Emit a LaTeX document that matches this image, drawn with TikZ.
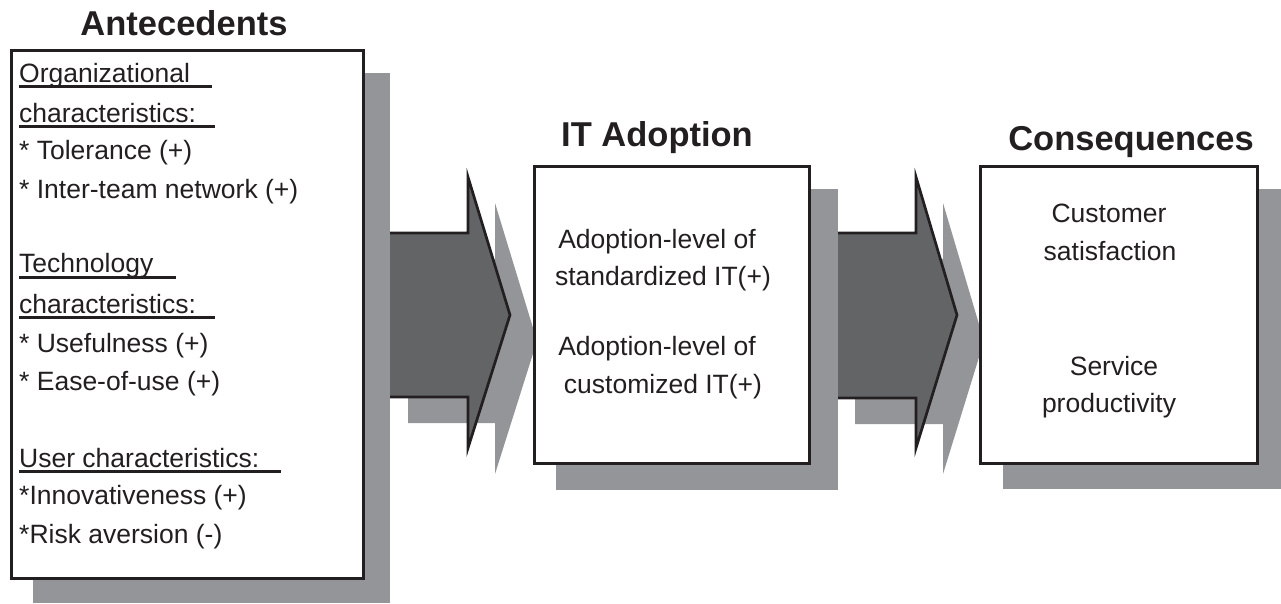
\documentclass[tikz,border=0pt]{standalone}
\usepackage{fontspec}
\setmainfont{Liberation Sans}
\definecolor{ink}{HTML}{231F20}
\definecolor{shade}{HTML}{939598}
\definecolor{arrowfill}{HTML}{636466}
\begin{document}
\begin{tikzpicture}[x=1pt,y=-1pt,
  body/.style={font=\fontsize{26.5}{30}\selectfont, text=ink, inner sep=0pt, anchor=base west},
  bodyc/.style={body, anchor=base},
  title/.style={font=\fontsize{34.5}{40}\selectfont\bfseries, text=ink, inner sep=0pt, anchor=base},
  shadowbox/.style={fill=shade, draw=none, inner sep=0pt, anchor=north west},
  mainbox/.style={fill=white, draw=ink, line width=2.7pt, inner sep=0pt, anchor=north west},
  bigarrow/.style={fill=arrowfill, draw=ink, line width=2.7pt, line join=miter},
  arrowshadow/.style={fill=shade, draw=none},
  ul/.style={draw=ink, line width=3pt}]
\useasboundingbox (0,0) rectangle (1281,603);

% arrow shadows
\fill[arrowshadow] (408,259) -- (495,259) -- (495,203) -- (537,341) -- (495,474) -- (495,423) -- (408,423) -- cycle;
\fill[arrowshadow] (855,259) -- (943,259) -- (943,203) -- (984,341) -- (943,474) -- (943,424) -- (855,424) -- cycle;
% arrows
\draw[bigarrow] (381,233) -- (468,233) -- (468,177) -- (510,315) -- (468,448) -- (468,397) -- (381,397) -- cycle;
\draw[bigarrow] (828,233) -- (916,233) -- (916,177) -- (957,315) -- (916,448) -- (916,398) -- (828,398) -- cycle;

% boxes with shadows
\node[shadowbox, minimum width=357pt, minimum height=530pt] (anteshadow) at (33,73) {};
\node[mainbox, minimum width=352pt, minimum height=528pt] (ante) at (10,49) {};
\node[shadowbox, minimum width=282pt, minimum height=301pt] (adoptshadow) at (556,189) {};
\node[mainbox, minimum width=275pt, minimum height=297pt] (adopt) at (533,165) {};
\node[shadowbox, minimum width=278pt, minimum height=300pt] (consshadow) at (1003,189) {};
\node[mainbox, minimum width=277pt, minimum height=297pt] (cons) at (979,165) {};

% titles
\node[title] (t1) at (184,35) {Antecedents};
\node[title] (t2) at (657,146) {IT Adoption};
\node[title] (t3) at (1131,150) {Consequences};

% antecedents text
\node[body] (a1) at (19,82) {Organizational};
\node[body] (a2) at (19,122) {characteristics:};
\node[body] (a3) at (19,159) {* Tolerance (+)};
\node[body] (a4) at (19,198) {* Inter-team network (+)};
\node[body] (a5) at (19,272) {Technology};
\node[body] (a6) at (19,313) {characteristics:};
\node[body] (a7) at (19,352) {* Usefulness (+)};
\node[body] (a8) at (19,390) {* Ease-of-use (+)};
\node[body] (a9) at (19,467) {User characteristics:};
\node[body] (a10) at (19,504) {*Innovativeness (+)};
\node[body] (a11) at (19,543) {*Risk aversion (-)};
\draw[ul] ([yshift=-4pt]a1.base west) -- ++(193,0);
\draw[ul] ([yshift=-4pt]a2.base west) -- ++(196,0);
\draw[ul] ([yshift=-5pt]a5.base west) -- ++(157,0);
\draw[ul] ([yshift=-4pt]a6.base west) -- ++(196,0);
\draw[ul] ([yshift=-4pt]a9.base west) -- ++(262,0);

% adoption text
\node[bodyc] (b1) at (657,248) {Adoption-level of};
\node[bodyc] (b2) at (663,285) {standardized IT(+)};
\node[bodyc] (b3) at (657,355) {Adoption-level of};
\node[bodyc] (b4) at (663,393) {customized IT(+)};

% consequences text
\node[bodyc] (c1) at (1109,222) {Customer};
\node[bodyc] (c2) at (1110,260) {satisfaction};
\node[bodyc] (c3) at (1114,375) {Service};
\node[bodyc] (c4) at (1109,412) {productivity};
\end{tikzpicture}
\end{document}
